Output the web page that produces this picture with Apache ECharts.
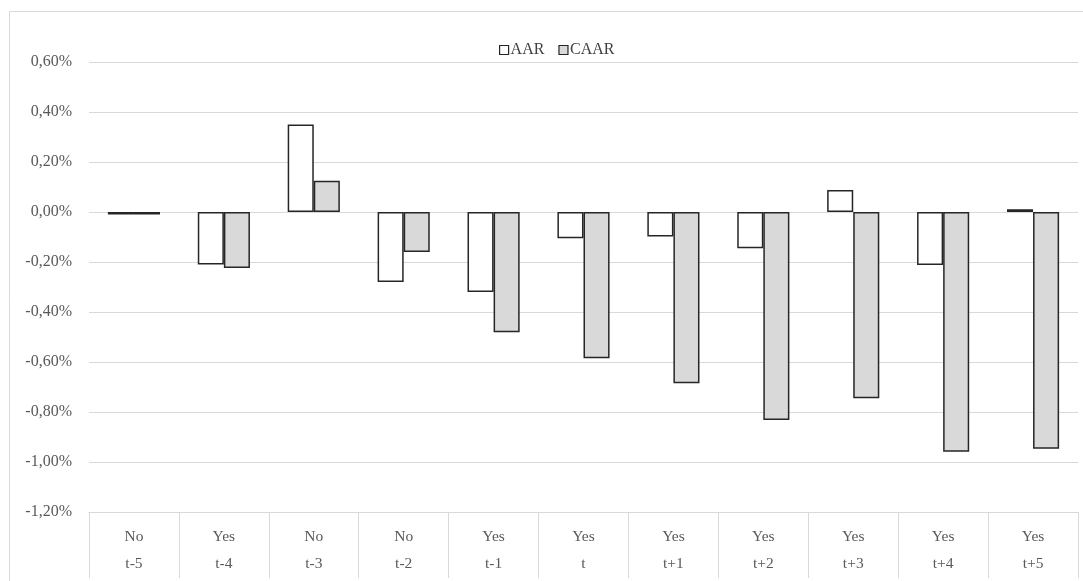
<!DOCTYPE html>
<html>
<head>
<meta charset="utf-8">
<script src="https://cdn.jsdelivr.net/npm/echarts@6/dist/echarts.min.js"></script>
<style>html,body{margin:0;padding:0;background:#fff;}#c{width:1083px;height:581px;}</style>
</head>
<body>
<div id="c"></div>
<script>
const periods = ['t-5','t-4','t-3','t-2','t-1','t','t+1','t+2','t+3','t+4','t+5'];
const groups = ['No','Yes','No','No','Yes','Yes','Yes','Yes','Yes','Yes','Yes'];
const aar = [-0.01,-0.21,0.35,-0.28,-0.32,-0.105,-0.098,-0.145,0.088,-0.212,0.011];
const caar = [-0.01,-0.224,0.125,-0.16,-0.481,-0.585,-0.685,-0.832,-0.745,-0.959,-0.947];

const font = 'Liberation Serif';
const chart = echarts.init(document.getElementById('c'));
chart.setOption({
  animation: false,
  graphic: [{
    type: 'rect', z: -10,
    shape: {x: 9.5, y: 11.5, width: 1080, height: 620},
    style: {fill: 'none', stroke: '#d9d9d9', lineWidth: 1}
  }],
  legend: {
    left: 494, top: 37, icon: 'rect',
    itemWidth: 9, itemHeight: 9, itemGap: 14,
    itemStyle: {borderWidth: 1.2},
    textStyle: {fontFamily: font, fontSize: 16, color: '#404040', padding: [0,0,0,-3]},
    data: ['AAR','CAAR']
  },
  grid: {left: 89, right: 5, top: 62, bottom: 69},
  xAxis: {
    type: 'category',
    data: periods,
    axisLine: {show: true, onZero: false, lineStyle: {color: '#d9d9d9', width: 1}},
    axisTick: {show: true, length: 66, interval: 0, lineStyle: {color: '#d9d9d9'}},
    axisLabel: {
      interval: 0, margin: 11,
      fontFamily: font, fontSize: 15.5, color: '#595959', lineHeight: 27,
      formatter: (v, i) => groups[i] + '\n' + v
    }
  },
  yAxis: {
    type: 'value', min: -1.2, max: 0.6, interval: 0.2,
    axisLine: {show: false}, axisTick: {show: false},
    splitLine: {lineStyle: {color: '#d9d9d9', width: 1}},
    axisLabel: {
      fontFamily: font, fontSize: 16, color: '#595959', margin: 17,
      formatter: v => v.toFixed(2).replace('.', ',') + '%'
    }
  },
  series: [
    {name: 'AAR', type: 'bar', data: aar, barGap: '0%', barCategoryGap: '42%',
     itemStyle: {color: '#ffffff', borderColor: '#262626', borderWidth: 1.5}},
    {name: 'CAAR', type: 'bar', data: caar,
     itemStyle: {color: '#d9d9d9', borderColor: '#262626', borderWidth: 1.5}}
  ]
});
</script>
</body>
</html>
